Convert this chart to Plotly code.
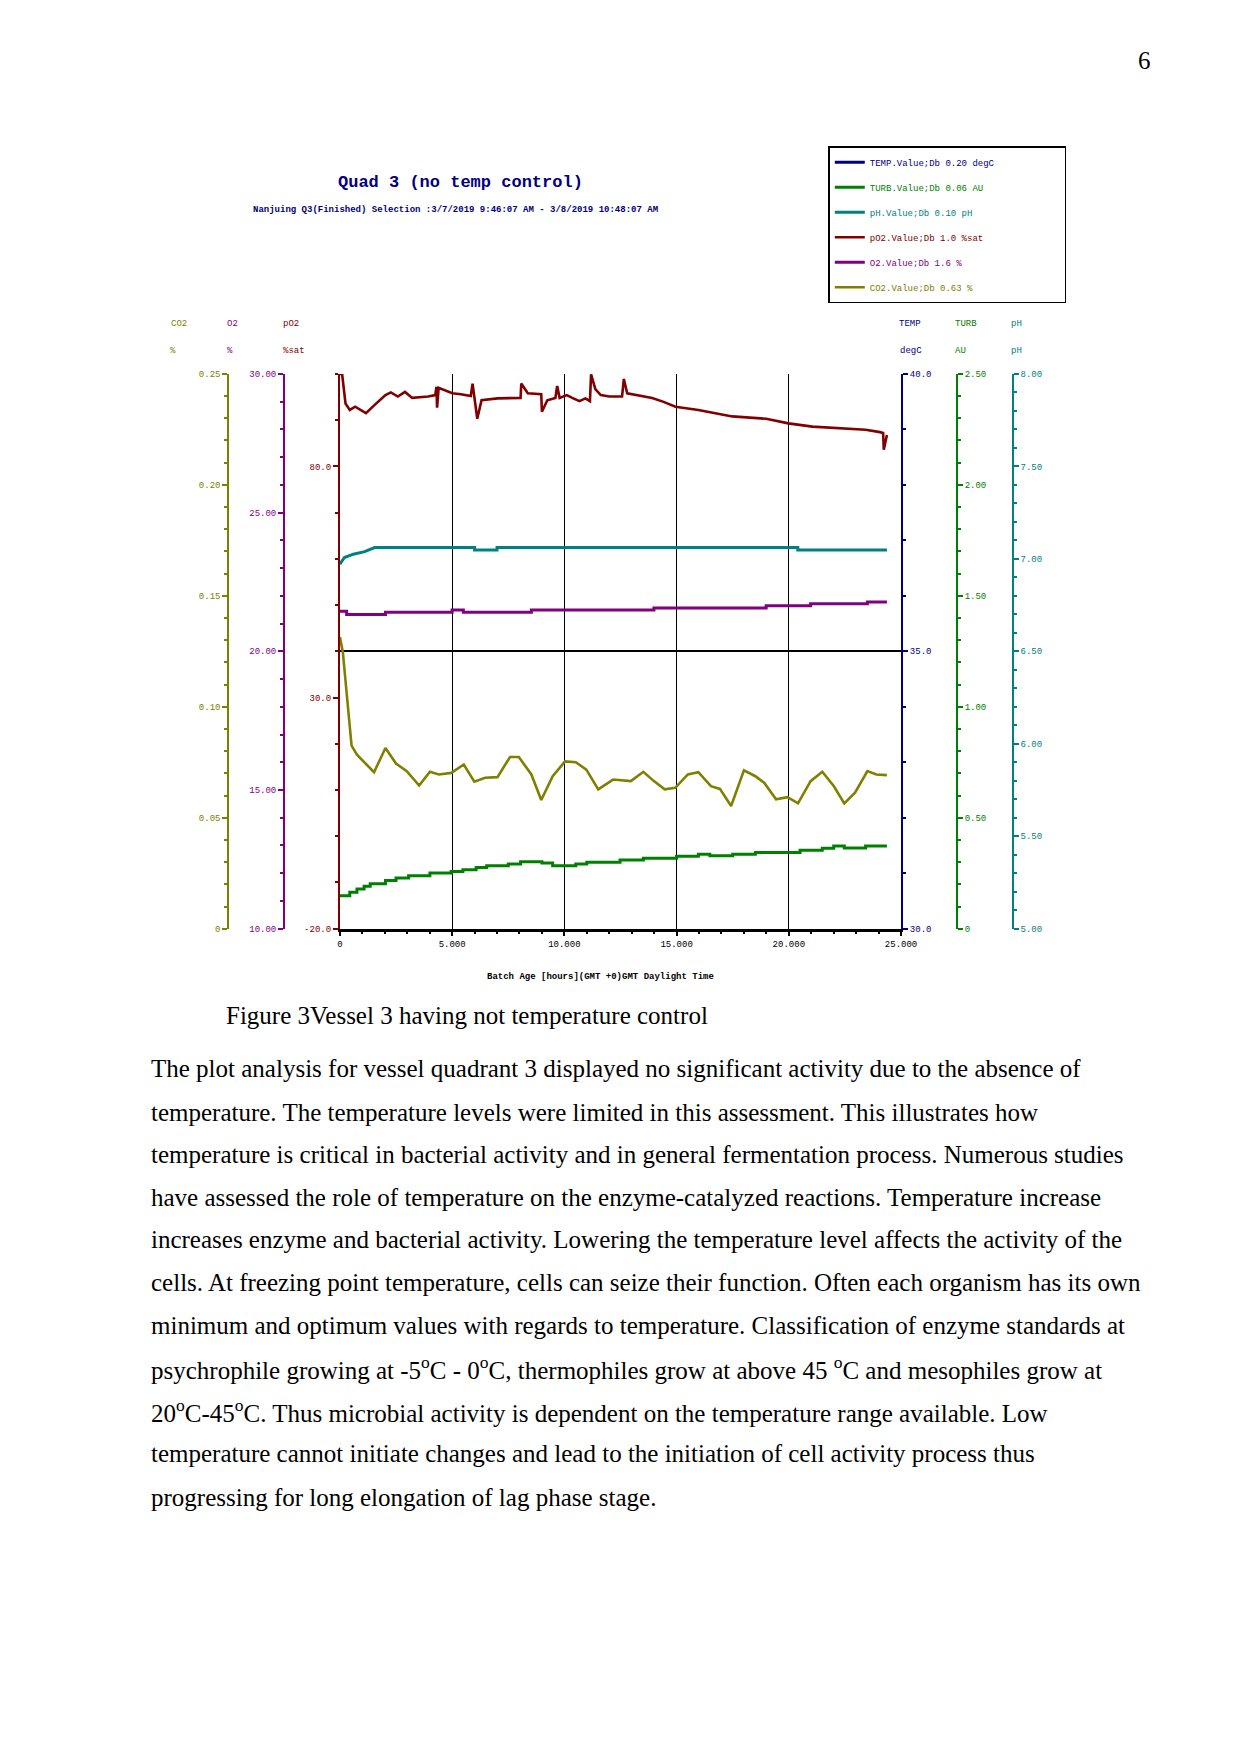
import plotly.graph_objects as go

W, H = 1241, 1754
W_EFF = 1226   # horizontal scale observed in the viewer's picture
MONO = "Liberation Mono"
SERIF = "Liberation Serif"

NAVY = "#000080"
GREEN = "#008000"
TEAL = "#008080"
MAROON = "#800000"
PURPLE = "#800080"
OLIVE = "#808000"

# ---------------- data (hours, values) ----------------
temp_hours = [0, 24.37]
temp_values = [None, None]          # no TEMP reading drawn in the plot window

turb_hours = [0, 0.44, 0.76, 1.08, 1.35, 2.03, 2.50, 3.06, 4.01, 4.96, 5.48, 6.07, 6.54,
              7.50, 8.05, 9.00, 9.48, 10.51, 11.0, 12.48, 13.52, 15.0, 15.97, 16.48,
              17.5, 18.51, 20.5, 21.49, 22.0, 22.47, 23.42, 24.37]
turb_values = [0.149, 0.164, 0.179, 0.191, 0.202, 0.217, 0.229, 0.239, 0.251, 0.258, 0.266,
               0.276, 0.284, 0.291, 0.302, 0.296, 0.284, 0.291, 0.299, 0.309, 0.318, 0.326,
               0.336, 0.329, 0.336, 0.343, 0.354, 0.363, 0.373, 0.364, 0.373, 0.373]

ph_hours = [0, 0.2, 0.6, 1.1, 1.55, 6.0, 6.0, 7.0, 7.0, 20.4, 20.4, 24.37]
ph_values = [6.971, 7.007, 7.025, 7.039, 7.061, 7.061, 7.048, 7.048, 7.061, 7.061, 7.048, 7.048]

po2_hours = [0, 0.1, 0.25, 0.44, 0.68, 0.95, 1.16, 1.55, 2.03, 2.27, 2.58, 2.90, 3.22,
             3.93, 4.25, 4.30, 4.33, 4.40, 5.01, 5.39, 5.83, 5.91, 6.12, 6.31, 7.02,
             8.05, 8.08, 8.37, 8.97, 9.00, 9.24, 9.60, 9.68, 9.79, 10.11, 10.35, 10.67,
             10.94, 11.14, 11.19, 11.38, 11.62, 12.01, 12.57, 12.65, 12.80, 13.28, 13.91,
             14.39, 14.95, 15.97, 16.69, 17.48, 18.99, 19.98, 21.05, 22.47, 23.42, 24.06,
             24.20, 24.23, 24.37]
po2_values = [100.0, 99.9, 93.6, 92.2, 92.9, 92.2, 91.5, 93.3, 95.4, 96.0, 95.1, 96.1, 94.8,
              95.1, 95.4, 97.2, 92.7, 97.0, 95.8, 95.6, 95.2, 97.9, 90.3, 94.3, 94.7,
              94.8, 97.9, 95.8, 95.6, 91.8, 94.3, 94.8, 97.4, 94.8, 95.4, 94.8, 94.1,
              94.7, 94.1, 99.9, 96.7, 95.4, 95.1, 95.1, 98.9, 95.8, 95.4, 94.8,
              94.0, 92.9, 92.2, 91.5, 90.8, 90.3, 89.3, 88.6, 88.2, 87.9, 87.4,
              87.2, 83.6, 86.8]

o2_hours = [0, 0.3, 2.03, 5.0, 5.5, 8.53, 13.99, 18.99, 20.97, 23.5, 24.37]
o2_values = [21.44, 21.33, 21.41, 21.49, 21.41, 21.49, 21.56, 21.64, 21.71, 21.78, 21.78]

co2_hours = [0, 0.13, 0.52, 0.76, 1.52, 2.03, 2.50, 2.98, 3.53, 4.01, 4.41, 4.96, 5.52,
             5.99, 6.47, 7.02, 7.58, 7.97, 8.53, 8.97, 9.48, 10.03, 10.51, 10.98, 11.51,
             12.17, 12.96, 13.52, 13.99, 14.47, 14.94, 15.50, 15.97, 16.53, 16.93, 17.43,
             18.00, 18.51, 18.91, 19.43, 19.94, 20.41, 20.97, 21.49, 22.00, 22.47, 22.95,
             23.50, 23.90, 24.37]
co2_values = [0.1314, 0.1247, 0.0825, 0.0784, 0.0705, 0.0814, 0.0744, 0.0710, 0.0645,
              0.0707, 0.0695, 0.0702, 0.0740, 0.0662, 0.0680, 0.0683, 0.0774, 0.0774,
              0.0695, 0.0580, 0.0687, 0.0754, 0.0750, 0.0717, 0.0628, 0.0672, 0.0665,
              0.0707, 0.0665, 0.0628, 0.0635, 0.0695, 0.0705, 0.0642, 0.0630, 0.0553,
              0.0714, 0.0687, 0.0657, 0.0583, 0.0593, 0.0565, 0.0665, 0.0707, 0.0643,
              0.0565, 0.0613, 0.0710, 0.0695, 0.0692]

legend_names = ["TEMP.Value;Db 0.20 degC", "TURB.Value;Db 0.06 AU", "pH.Value;Db 0.10 pH",
                "pO2.Value;Db 1.0 %sat", "O2.Value;Db 1.6 %", "CO2.Value;Db 0.63 %"]

x_tick_values = [0, 5, 10, 15, 20, 25]
x_tick_text = ["0", "5.000", "10.000", "15.000", "20.000", "25.000"]
co2_tick_values = [0, 0.05, 0.10, 0.15, 0.20, 0.25]
co2_tick_text = ["0", "0.05", "0.10", "0.15", "0.20", "0.25"]
o2_tick_values = [10, 15, 20, 25, 30]
o2_tick_text = ["10.00", "15.00", "20.00", "25.00", "30.00"]
po2_tick_values = [-20, 30, 80]
po2_tick_text = ["-20.0", "30.0", "80.0"]
temp_tick_values = [30, 35, 40]
temp_tick_text = ["30.0", "35.0", "40.0"]
turb_tick_values = [0, 0.5, 1.0, 1.5, 2.0, 2.5]
turb_tick_text = ["0", "0.50", "1.00", "1.50", "2.00", "2.50"]
ph_tick_values = [5.0, 5.5, 6.0, 6.5, 7.0, 7.5, 8.0]
ph_tick_text = ["5.00", "5.50", "6.00", "6.50", "7.00", "7.50", "8.00"]

title_text = "Quad 3 (no temp control)"
subtitle_text = "Nanjuing Q3(Finished) Selection :3/7/2019 9:46:07 AM - 3/8/2019 10:48:07 AM"
xaxis_title = "Batch Age [hours](GMT +0)GMT Daylight Time"
caption = "Figure 3Vessel 3 having not temperature control"
body_lines = [
    "The plot analysis for vessel quadrant 3 displayed no significant activity due to the absence of",
    "temperature. The temperature levels were limited in this assessment. This illustrates how",
    "temperature is critical in bacterial activity and in general fermentation process. Numerous studies",
    "have assessed the role of temperature on the enzyme-catalyzed reactions. Temperature increase",
    "increases enzyme and bacterial activity. Lowering the temperature level affects the activity of the",
    "cells. At freezing point temperature, cells can seize their function. Often each organism has its own",
    "minimum and optimum values with regards to temperature. Classification of enzyme standards at",
    "psychrophile growing at -5<sup>o</sup>C - 0<sup>o</sup>C, thermophiles grow at above 45 <sup>o</sup>C and mesophiles grow at",
    "20<sup>o</sup>C-45<sup>o</sup>C. Thus microbial activity is dependent on the temperature range available. Low",
    "temperature cannot initiate changes and lead to the initiation of cell activity process thus",
    "progressing for long elongation of lag phase stage.",
]


def px(x):
    return x / W_EFF


def py(y):
    return 1 - y / H


PLOT_L, PLOT_R, PLOT_T, PLOT_B = 338, 901, 372, 930

fig = go.Figure()

series = [
    (temp_hours, temp_values, NAVY, "y4", "linear", 3),
    (turb_hours, turb_values, GREEN, "y5", "hv", 3),
    (ph_hours, ph_values, TEAL, "y6", "linear", 3),
    (po2_hours, po2_values, MAROON, "y", "linear", 2.6),
    (o2_hours, o2_values, PURPLE, "y2", "hv", 3),
    (co2_hours, co2_values, OLIVE, "y3", "linear", 2.6),
]
PAD = "&nbsp;" * 12
for i, (xs, ys, col, yax, shape, wd) in enumerate(series):
    fig.add_trace(go.Scatter(
        x=xs, y=ys, mode="lines", yaxis=yax,
        line=dict(color=col, width=wd, shape=shape),
        name=f'<span style="color:{col}">{legend_names[i]}</span>{PAD}',
        legendgroup=f"g{i}", showlegend=True,
    ))


def yax(color, rng, tv, tt, minor_dtick, **kw):
    d = dict(
        range=rng, tickmode="array", tickvals=tv, ticktext=tt,
        showline=True, linecolor=color, linewidth=2,
        ticks="outside", ticklen=5, tickwidth=2, tickcolor=color,
        tickfont=dict(family=MONO, size=9, color=color),
        minor=dict(dtick=minor_dtick, tick0=rng[0], ticks="outside", ticklen=3,
                   tickwidth=2, tickcolor=color, showgrid=False),
        showgrid=False, zeroline=False, fixedrange=True,
        domain=[py(PLOT_B), py(PLOT_T)],
    )
    d.update(kw)
    return d


fig.update_layout(
    width=W, height=H, autosize=False,
    margin=dict(l=0, r=0, t=0, b=0),
    paper_bgcolor="white", plot_bgcolor="white",
    xaxis=dict(
        domain=[px(PLOT_L), px(PLOT_R)], range=[0, 25],
        tickmode="array", tickvals=x_tick_values, ticktext=x_tick_text,
        showline=True, linecolor="black", linewidth=2.5,
        ticks="outside", ticklen=5, tickwidth=1.5, tickcolor="black",
        minor=dict(dtick=1, tick0=0, ticks="outside", ticklen=3, tickwidth=1.5,
                   tickcolor="black", showgrid=False),
        showgrid=True, gridcolor="black", gridwidth=1.2,
        zeroline=False, tickfont=dict(family=MONO, size=9, color="black"),
        anchor="y",
    ),
    yaxis=yax(MAROON, [-20, 100], po2_tick_values, po2_tick_text, 10,
              anchor="x", side="left"),
    yaxis2=yax(PURPLE, [10, 30], o2_tick_values, o2_tick_text, 1,
               anchor="free", position=px(282), side="left", overlaying="y"),
    yaxis3=yax(OLIVE, [0, 0.25], co2_tick_values, co2_tick_text, 0.01,
               anchor="free", position=px(226), side="left", overlaying="y"),
    yaxis4=yax(NAVY, [30, 40], temp_tick_values, temp_tick_text, 1,
               anchor="x", side="right", overlaying="y",
               showgrid=True, gridcolor="black", gridwidth=1.5),
    yaxis5=yax(GREEN, [0, 2.5], turb_tick_values, turb_tick_text, 0.1,
               anchor="free", position=px(957), side="right", overlaying="y"),
    yaxis6=yax(TEAL, [5, 8], ph_tick_values, ph_tick_text, 0.1,
               anchor="free", position=px(1013), side="right", overlaying="y"),
    showlegend=True,
    legend=dict(
        x=px(828), y=py(143), xanchor="left", yanchor="top",
        bgcolor="white", bordercolor="black", borderwidth=1.5,
        font=dict(family=MONO, size=9, color="black"),
        traceorder="grouped", tracegroupgap=6, itemwidth=30,
    ),
)

ann = []


def add_text(text, x, y, size, color="black", family=MONO, xanchor="center", bold=False):
    if bold:
        text = f"<b>{text}</b>"
    ann.append(dict(text=text, x=px(x), y=py(y), xref="paper", yref="paper",
                    showarrow=False, xanchor=xanchor, yanchor="middle",
                    font=dict(family=family, size=size, color=color)))


add_text("6", 1145, 57, 25, family=SERIF)
add_text(title_text, 459, 180, 17, NAVY, bold=True)
add_text(subtitle_text, 454, 207, 9, NAVY, bold=True)

headers = [
    ("CO2", 177, OLIVE), ("%", 171, OLIVE),
    ("O2", 230, PURPLE), ("%", 228, PURPLE),
    ("pO2", 289, MAROON), ("%sat", 292, MAROON),
    ("TEMP", 910, NAVY), ("degC", 911, NAVY),
    ("TURB", 966, GREEN), ("AU", 961, GREEN),
    ("pH", 1017, TEAL), ("pH", 1017, TEAL),
]
for i, (t, x, c) in enumerate(headers):
    add_text(t, x, 322 if i % 2 == 0 else 349, 9, c)

add_text(xaxis_title, 599, 979, 9, "black", bold=True)
add_text(caption, 222, 1017, 25, "black", family=SERIF, xanchor="left")

line_y = [1071, 1114.5, 1157, 1200, 1243, 1286, 1329, 1372, 1415.5, 1458, 1502]
for t, y in zip(body_lines, line_y):
    add_text(t, 146, y, 25, "black", family=SERIF, xanchor="left")

fig.update_layout(annotations=ann)
fig.write_html("out.html")
